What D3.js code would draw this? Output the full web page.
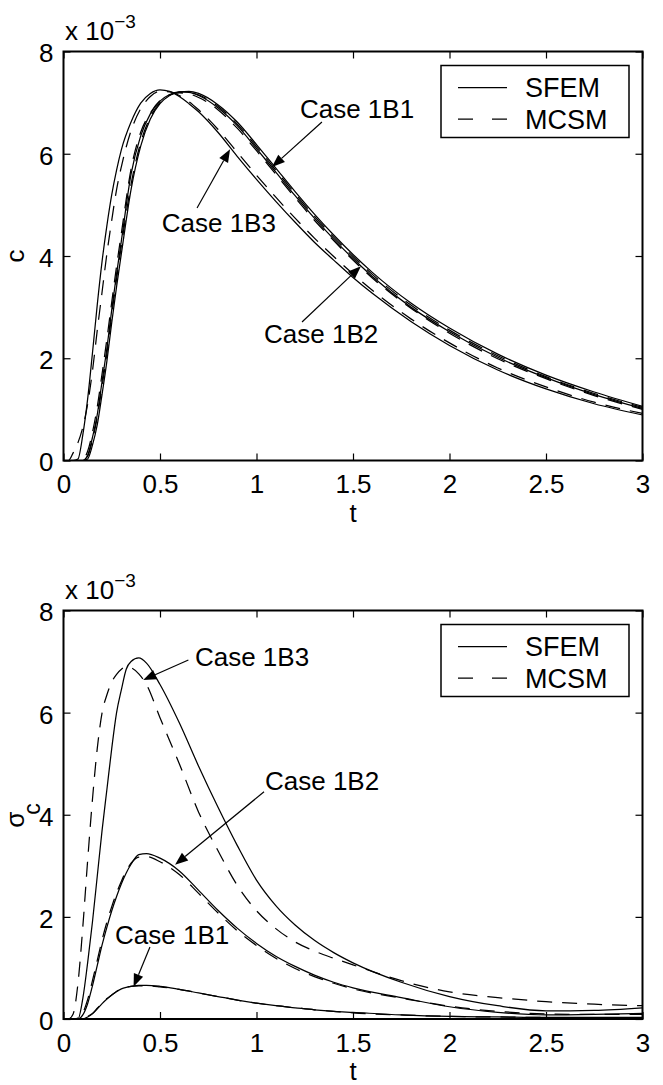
<!DOCTYPE html>
<html>
<head>
<meta charset="utf-8">
<script src="https://cdn.jsdelivr.net/npm/d3@7"></script>
<style>
  body { margin: 0; background: #fff; }
  svg { display: block; }
</style>
</head>
<body>
<script>
// ---------------------------------------
// c and sigma_c vs t, cases 1B1-1B3 (SFEM vs MCSM)
// ---------------------------------------

// axis ticks
const xTicks = [0, 0.5, 1, 1.5, 2, 2.5, 3];
const yTicks = [0, 2, 4, 6, 8];
const legendLabels = ["SFEM", "MCSM"];

// top panel: mean concentration c (x 1e-3)
const tTop = [0, 0.025, 0.05, 0.075, 0.1, 0.125, 0.15, 0.175, 0.2, 0.225, 0.25, 0.275, 0.3, 0.35, 0.4, 0.45, 0.5, 0.55, 0.6, 0.65, 0.7, 0.8, 0.9, 1.0, 1.1, 1.2, 1.3, 1.4, 1.5, 1.6, 1.8, 2.0, 2.25, 2.5, 2.75, 3.0];
const cTop1B1Sfem = [0, 0, 0, 0, 0, 0.03, 0.3, 0.7, 1.3, 1.95, 2.7, 3.4, 4.05, 5.3, 6.15, 6.68, 6.98, 7.14, 7.21, 7.22, 7.18, 6.96, 6.62, 6.18, 5.72, 5.26, 4.82, 4.41, 4.03, 3.68, 3.08, 2.59, 2.08, 1.67, 1.34, 1.06];
const cTop1B1Mcsm = [0, 0, 0, 0, 0, 0.08, 0.4, 0.85, 1.45, 2.1, 2.85, 3.55, 4.2, 5.4, 6.22, 6.72, 7.0, 7.15, 7.2, 7.2, 7.15, 6.93, 6.58, 6.14, 5.68, 5.22, 4.78, 4.37, 3.99, 3.64, 3.04, 2.55, 2.05, 1.64, 1.31, 1.04];
const cTop1B2Sfem = [0, 0, 0, 0, 0, 0.1, 0.45, 0.9, 1.55, 2.2, 2.95, 3.65, 4.3, 5.6, 6.35, 6.78, 7.03, 7.16, 7.21, 7.2, 7.14, 6.9, 6.55, 6.1, 5.64, 5.18, 4.74, 4.33, 3.95, 3.6, 3.0, 2.52, 2.02, 1.62, 1.29, 1.02];
const cTop1B2Mcsm = [0, 0, 0, 0, 0.02, 0.18, 0.55, 1.05, 1.7, 2.38, 3.1, 3.8, 4.45, 5.7, 6.42, 6.8, 7.04, 7.15, 7.19, 7.17, 7.1, 6.86, 6.5, 6.06, 5.6, 5.14, 4.7, 4.3, 3.92, 3.57, 2.98, 2.49, 1.99, 1.6, 1.27, 1.0];
const cTop1B3Sfem = [0, 0, 0, 0.03, 0.5, 1.2, 2.1, 3.05, 3.9, 4.6, 5.2, 5.68, 6.08, 6.62, 6.99, 7.18, 7.25, 7.22, 7.12, 6.98, 6.82, 6.42, 5.95, 5.5, 5.07, 4.66, 4.27, 3.92, 3.58, 3.27, 2.72, 2.25, 1.77, 1.40, 1.11, 0.89];
const cTop1B3Mcsm = [0, 0, 0.15, 0.35, 0.65, 1.1, 1.75, 2.55, 3.3, 4.05, 4.7, 5.3, 5.75, 6.45, 6.88, 7.12, 7.22, 7.21, 7.14, 7.02, 6.86, 6.48, 6.03, 5.58, 5.15, 4.74, 4.35, 3.99, 3.65, 3.33, 2.77, 2.3, 1.81, 1.44, 1.14, 0.92];

// bottom panel: standard deviation sigma_c (x 1e-3)
const tBot = [0, 0.025, 0.05, 0.075, 0.1, 0.125, 0.15, 0.175, 0.2, 0.225, 0.25, 0.275, 0.3, 0.325, 0.35, 0.39, 0.43, 0.5, 0.6, 0.7, 0.8, 0.9, 1.0, 1.1, 1.2, 1.3, 1.4, 1.5, 1.75, 2.0, 2.25, 2.5, 2.75, 3.0];
const sBot1B1Sfem = [0, 0, 0, 0, 0, 0.04, 0.1, 0.2, 0.3, 0.39, 0.47, 0.54, 0.59, 0.62, 0.64, 0.66, 0.66, 0.64, 0.58, 0.51, 0.44, 0.37, 0.31, 0.26, 0.22, 0.18, 0.15, 0.13, 0.08, 0.05, 0.04, 0.03, 0.03, 0.03];
const sBot1B1Mcsm = [0, 0, 0, 0, 0.01, 0.05, 0.11, 0.21, 0.31, 0.4, 0.47, 0.54, 0.59, 0.62, 0.64, 0.65, 0.65, 0.63, 0.58, 0.51, 0.44, 0.37, 0.31, 0.26, 0.22, 0.18, 0.15, 0.12, 0.08, 0.05, 0.04, 0.03, 0.02, 0.02];
const sBot1B2Sfem = [0, 0, 0, 0, 0.08, 0.3, 0.65, 1.05, 1.45, 1.8, 2.12, 2.4, 2.65, 2.86, 3.03, 3.22, 3.24, 3.15, 2.9, 2.52, 2.13, 1.78, 1.48, 1.23, 1.03, 0.86, 0.72, 0.61, 0.42, 0.24, 0.13, 0.08, 0.09, 0.11];
const sBot1B2Mcsm = [0, 0, 0, 0.02, 0.12, 0.38, 0.75, 1.15, 1.55, 1.9, 2.2, 2.47, 2.7, 2.9, 3.05, 3.17, 3.18, 3.08, 2.83, 2.46, 2.08, 1.73, 1.44, 1.19, 0.99, 0.83, 0.7, 0.59, 0.41, 0.25, 0.15, 0.1, 0.09, 0.09];
const sBot1B3Sfem = [0, 0, 0, 0, 0.4, 1.1, 1.9, 2.8, 3.7, 4.5, 5.3, 6.0, 6.45, 6.85, 7.0, 7.07, 6.97, 6.55, 5.8, 4.95, 4.15, 3.4, 2.72, 2.22, 1.84, 1.54, 1.3, 1.1, 0.72, 0.44, 0.26, 0.16, 0.17, 0.22];
const sBot1B3Mcsm = [0, 0, 0.1, 0.7, 1.8, 3.1, 4.3, 5.3, 6.0, 6.35, 6.6, 6.75, 6.85, 6.9, 6.88, 6.76, 6.55, 5.9, 5.0, 4.05, 3.3, 2.62, 2.12, 1.77, 1.51, 1.33, 1.19, 1.06, 0.75, 0.53, 0.42, 0.34, 0.29, 0.26];

// annotations in data units: label anchor, arrow start, arrow tip
const topNotes = [
  { label: "Case 1B1", at: [1.225, 6.70], from: [1.339, 6.62], to: [1.080, 5.74] },
  { label: "Case 1B3", at: [0.509, 4.47], from: [0.692, 4.94], to: [0.863, 6.09] },
  { label: "Case 1B2", at: [1.039, 2.30], from: [1.236, 2.71], to: [1.541, 3.80] }
];
const botNotes = [
  { label: "Case 1B3", at: [0.681, 6.92], from: [0.647, 7.03], to: [0.413, 6.64] },
  { label: "Case 1B2", at: [1.044, 4.48], from: [1.039, 4.45], to: [0.578, 3.02] },
  { label: "Case 1B1", at: [0.267, 1.46], from: [0.448, 1.41], to: [0.363, 0.63] }
];

const FONT = "'Liberation Sans', Arial, Helvetica, sans-serif";
const W = 663, H = 1085;

const svg = d3.select("body").append("svg")
  .attr("width", W)
  .attr("height", H)
  .style("font-family", FONT);

svg.append("rect").attr("width", W).attr("height", H).attr("fill", "#fff");

function drawPanel(p) {
  const x = d3.scaleLinear().domain([0, 3]).range([63.5, 642.5]);
  const y = d3.scaleLinear().domain([0, 8]).range([p.bottom, p.top]);
  const g = svg.append("g");

  // clip for curves
  g.append("clipPath").attr("id", p.id + "-clip")
    .append("rect")
    .attr("x", x(0)).attr("y", y(8))
    .attr("width", x(3) - x(0)).attr("height", y(0) - y(8));

  const line = d3.line()
    .x(d => x(d[0]))
    .y(d => y(d[1]))
    .curve(d3.curveMonotoneX);

  const curves = g.append("g").attr("clip-path", `url(#${p.id}-clip)`);
  p.series.forEach(s => {
    curves.append("path")
      .datum(p.t.map((t, i) => [t, s.values[i]]))
      .attr("d", line)
      .attr("fill", "none")
      .attr("stroke", "#000")
      .attr("stroke-width", 1.25)
      .attr("stroke-dasharray", s.dashed ? "15,10" : null);
  });

  // axes (ticks pointing inward, on all four sides)
  const fmt = d => String(d);
  g.append("g")
    .attr("transform", `translate(0, ${y(0)})`)
    .call(d3.axisBottom(x).tickValues(xTicks).tickFormat(fmt).tickSize(-7).tickPadding(14.5));
  const yl = g.append("g")
    .attr("transform", `translate(${x(0)}, 0)`)
    .call(d3.axisLeft(y).tickValues(yTicks).tickFormat(fmt).tickSize(-7).tickPadding(10));
  g.append("g")
    .attr("transform", `translate(0, ${y(8)})`)
    .call(d3.axisTop(x).tickValues(xTicks).tickFormat("").tickSize(-7));
  g.append("g")
    .attr("transform", `translate(${x(3)}, 0)`)
    .call(d3.axisRight(y).tickValues(yTicks).tickFormat("").tickSize(-7));

  g.selectAll(".domain").remove();
  g.selectAll(".tick line").attr("stroke", "#000").attr("stroke-width", 1.2);
  g.selectAll(".tick text")
    .attr("fill", "#000")
    .style("font-family", FONT)
    .style("font-size", "26px");
  yl.selectAll(".tick text").attr("dy", "0.4em");

  // frame
  g.append("rect")
    .attr("x", x(0)).attr("y", y(8))
    .attr("width", x(3) - x(0)).attr("height", y(0) - y(8))
    .attr("fill", "none")
    .attr("stroke", "#000")
    .attr("stroke-width", 2);

  // exponent label
  const ex = g.append("text")
    .attr("x", x(0) + 1.5)
    .attr("y", y(8) - 12)
    .style("font-size", "26px")
    .text("x 10");
  ex.append("tspan")
    .attr("dy", -12)
    .style("font-size", "19px")
    .text("\u22123");

  // x label
  g.append("text")
    .attr("x", (x(0) + x(3)) / 2)
    .attr("y", y(0) + 61)
    .attr("text-anchor", "middle")
    .style("font-size", "26px")
    .text("t");

  // y label
  const yLab = g.append("text")
    .attr("transform", `translate(24, ${(y(0) + y(8)) / 2 + p.ylabShift}) rotate(-90)`)
    .attr("text-anchor", p.ylabAnchor)
    .style("font-size", "26px");
  yLab.append("tspan").text(p.ylab);
  if (p.ysub) {
    yLab.append("tspan")
      .attr("dy", 16).attr("dx", -3)
      .style("font-size", "23px")
      .text(p.ysub);
  }

  // case annotations with arrows
  p.notes.forEach(n => {
    g.append("text")
      .attr("x", x(n.at[0]))
      .attr("y", y(n.at[1]))
      .style("font-size", "26px")
      .text(n.label);

    const x0 = x(n.from[0]), y0 = y(n.from[1]);
    const x1 = x(n.to[0]), y1 = y(n.to[1]);
    const len = Math.hypot(x1 - x0, y1 - y0);
    const ux = (x1 - x0) / len, uy = (y1 - y0) / len;
    const headL = 13, headW = 5;
    const bx = x1 - ux * headL, by = y1 - uy * headL;
    g.append("line")
      .attr("x1", x0).attr("y1", y0)
      .attr("x2", bx).attr("y2", by)
      .attr("stroke", "#000")
      .attr("stroke-width", 1.2);
    g.append("path")
      .attr("d", `M${x1},${y1}L${bx - uy * headW},${by + ux * headW}L${bx + uy * headW},${by - ux * headW}Z`)
      .attr("fill", "#000");
  });

  // legend
  const lx = x(3) - 13.5 - 188, ly = y(8) + 14;
  const lg = g.append("g").attr("transform", `translate(${lx}, ${ly})`);
  lg.append("rect")
    .attr("width", 188).attr("height", 72)
    .attr("fill", "#fff")
    .attr("stroke", "#000")
    .attr("stroke-width", 1.5);
  legendLabels.forEach((lab, i) => {
    const ry = 22 + i * 31.5;
    lg.append("line")
      .attr("x1", 17).attr("x2", 66)
      .attr("y1", ry).attr("y2", ry)
      .attr("stroke", "#000")
      .attr("stroke-width", 1.25)
      .attr("stroke-dasharray", i === 1 ? "15,19" : null);
    lg.append("text")
      .attr("x", 84).attr("y", ry + 9.5)
      .style("font-size", "27px")
      .text(lab);
  });
}

drawPanel({
  id: "top",
  top: 51.5, bottom: 460.5,
  t: tTop,
  series: [
    { values: cTop1B1Sfem, dashed: false },
    { values: cTop1B1Mcsm, dashed: true },
    { values: cTop1B2Sfem, dashed: false },
    { values: cTop1B2Mcsm, dashed: true },
    { values: cTop1B3Sfem, dashed: false },
    { values: cTop1B3Mcsm, dashed: true }
  ],
  notes: topNotes,
  ylab: "c", ysub: null, ylabAnchor: "middle", ylabShift: 0
});

drawPanel({
  id: "bot",
  top: 610.5, bottom: 1019,
  t: tBot,
  series: [
    { values: sBot1B1Sfem, dashed: false },
    { values: sBot1B1Mcsm, dashed: true },
    { values: sBot1B2Sfem, dashed: false },
    { values: sBot1B2Mcsm, dashed: true },
    { values: sBot1B3Sfem, dashed: false },
    { values: sBot1B3Mcsm, dashed: true }
  ],
  notes: botNotes,
  ylab: "\u03c3", ysub: "c", ylabAnchor: "start", ylabShift: 13
});
</script>
</body>
</html>
